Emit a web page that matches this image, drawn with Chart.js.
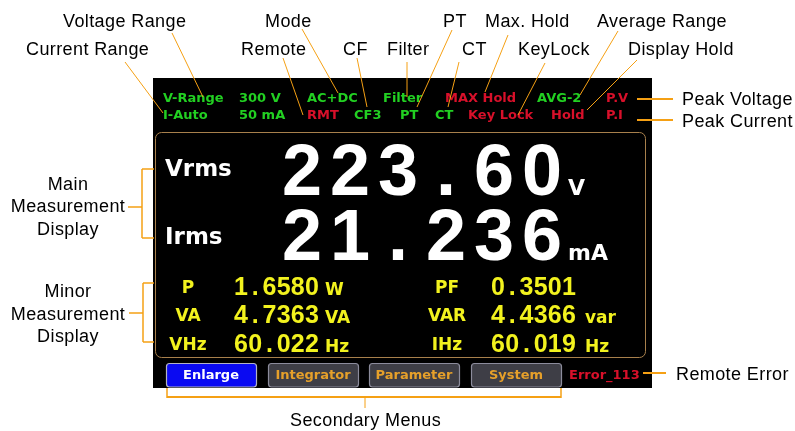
<!DOCTYPE html>
<html>
<head>
<meta charset="utf-8">
<script src="https://cdn.jsdelivr.net/npm/chart.js@4.4.1/dist/chart.umd.min.js"></script>
<style>
  html, body { margin: 0; padding: 0; background: #fff; }
  #panel { display: block; }
</style>
</head>
<body>
<canvas id="panel" width="795" height="431"></canvas>
<script>
// contenido de la pantalla
const statusTop = ['V-Range', '300 V', 'AC+DC', 'Filter', 'MAX Hold', 'AVG-2', 'P.V'];
const statusBottom = ['I-Auto', '50 mA', 'RMT', 'CF3', 'PT', 'CT', 'Key Lock', 'Hold', 'P.I'];
const mainLabels = ['Vrms', 'Irms'];
const mainValues = ['223.60', '21.236'];
const mainUnits = ['V', 'mA'];
const minorLabels = ['P', 'VA', 'VHz', 'PF', 'VAR', 'IHz'];
const minorValues = ['1.6580', '4.7363', '60.022', '0.3501', '4.4366', '60.019'];
const minorUnits = ['W', 'VA', 'Hz', '', 'var', 'Hz'];
const menus = ['Enlarge', 'Integrator', 'Parameter', 'System'];
const errorText = 'Error_113';

// textos de las llamadas
const callouts = ['Voltage Range', 'Current Range', 'Mode', 'Remote', 'CF', 'Filter', 'PT', 'Max. Hold',
  'CT', 'KeyLock', 'Average Range', 'Display Hold', 'Peak Voltage', 'Peak Current', 'Remote Error'];
const sideLabels = [['Main', 'Measurement', 'Display'], ['Minor', 'Measurement', 'Display']];
const bottomLabel = 'Secondary Menus';

// posiciones (solo maquetación)
const topX = [163, 239, 307, 383, 445, 537, 606];
const topCol = ['g', 'g', 'g', 'g', 'r', 'g', 'r'];
const botX = [163, 239, 307, 354, 400, 435, 468, 551, 606];
const botCol = ['g', 'g', 'r', 'g', 'g', 'g', 'r', 'r', 'r'];
const calloutPos = [
  [63, 22, 172, 33, 203, 97], [26, 50, 125, 62, 163, 113], [265, 22, 302, 29, 338, 93],
  [241, 50, 283, 58, 303, 115], [343, 50, 357, 58, 367, 107], [387, 50, 407, 62, 407, 97],
  [443, 22, 452, 30, 417, 107], [485, 22, 508, 35, 485, 92], [462, 50, 459, 62, 448, 107],
  [518, 50, 545, 63, 518, 115], [597, 22, 618, 31, 580, 95], [628, 50, 637, 60, 587, 110],
  [682, 100, 637, 99, 673, 99], [682, 122, 637, 120, 673, 120], [676, 375, 643, 373, 666, 373]
];
const menuX = [166, 268, 369, 471];

const colores = { g: '#22d022', r: '#d8102a', y: '#f2f21e', o: '#f5a014', menu: '#e6a02a' };

const pantalla = {
  id: 'pantalla',
  afterDraw(chart) {
    const c = chart.ctx;
    const X = v => chart.scales.x.getPixelForValue(v);
    const Y = v => chart.scales.y.getPixelForValue(v);
    const txt = (s, x, y, font, color, align = 'left', base = 'middle') => {
      c.font = font; c.fillStyle = color; c.textAlign = align; c.textBaseline = base;
      c.fillText(s, X(x), Y(y));
    };
    const line = (x1, y1, x2, y2, w = 1) => {
      c.strokeStyle = colores.o; c.lineWidth = w;
      c.beginPath(); c.moveTo(X(x1), Y(y1)); c.lineTo(X(x2), Y(y2)); c.stroke();
    };
    c.save();

    // fondo negro
    c.fillStyle = '#000';
    c.fillRect(X(153), Y(78), X(652) - X(153), Y(388) - Y(78));

    // marco de medidas
    c.strokeStyle = '#a8804c'; c.lineWidth = 1;
    c.beginPath(); c.roundRect(X(155.5), Y(132.5), X(645.5) - X(155.5), Y(357.5) - Y(132.5), 6); c.stroke();

    // barra de estado
    const fEstado = 'bold 13px "DejaVu Sans"';
    statusTop.forEach((s, i) => txt(s, topX[i], 99, fEstado, colores[topCol[i]]));
    statusBottom.forEach((s, i) => txt(s, botX[i], 116, fEstado, colores[botCol[i]]));

    // medidas principales
    const baseMain = [195, 260];
    mainLabels.forEach((s, i) => {
      txt(s, 165, i === 0 ? 170 : 238, 'bold 23px "DejaVu Sans"', '#fff');
      [...mainValues[i]].forEach((ch, k) =>
        txt(ch, 302 + k * 48, baseMain[i], 'bold 72px "Liberation Sans"', '#fff', 'center', 'alphabetic'));
      txt(mainUnits[i], 568, baseMain[i], 'bold 22px "DejaVu Sans"', '#fff', 'left', 'alphabetic');
    });

    // medidas secundarias
    const baseMinor = [295, 323, 352];
    minorLabels.forEach((s, i) => {
      const col = i < 3 ? 0 : 1, fila = i % 3;
      const b = baseMinor[fila];
      txt(s, col ? 447 : 188, b - 2, 'bold 17px "DejaVu Sans"', colores.y, 'center', 'alphabetic');
      [...minorValues[i]].forEach((ch, k) =>
        txt(ch, (col ? 498 : 241) + k * 14.2, b, 'bold 25px "Liberation Sans"', colores.y, 'center', 'alphabetic'));
      if (minorUnits[i]) txt(minorUnits[i], col ? 585 : 325, b, 'bold 17px "DejaVu Sans"', colores.y, 'left', 'alphabetic');
    });

    // menús
    menus.forEach((s, i) => {
      const x0 = menuX[i];
      c.fillStyle = i === 0 ? '#0a0af2' : '#3e3e46';
      c.strokeStyle = i === 0 ? '#b4b4c4' : '#8c8c9c';
      c.lineWidth = 1.2;
      c.beginPath(); c.roundRect(X(x0 + 0.5), Y(363.5), X(x0 + 90) - X(x0), Y(387) - Y(363.5), 3);
      c.fill(); c.stroke();
      txt(s, x0 + 45, 376, 'bold 13px "DejaVu Sans"', i === 0 ? '#fff' : colores.menu, 'center');
    });
    txt(errorText, 569, 376, 'bold 13px "DejaVu Sans"', colores.r);

    // llamadas
    c.letterSpacing = '0.4px';
    const fLlamada = '18px "Liberation Sans"';
    callouts.forEach((s, i) => {
      const p = calloutPos[i];
      txt(s, p[0], p[1], fLlamada, '#000');
      line(p[2], p[3], p[4], p[5], i >= 12 ? 2 : 1);
    });

    // corchetes laterales
    const br = [[142, 169, 238, 207, [185, 207, 230]], [143, 283, 342, 313, [292, 315, 337]]];
    br.forEach((b, i) => {
      line(b[0], b[1], b[0], b[2], 1.5);
      line(b[0], b[1], 154, b[1], 1.5);
      line(b[0], b[2], 154, b[2], 1.5);
      line(b[0] - 14, b[3], b[0], b[3], 1.5);
      sideLabels[i].forEach((s, k) => txt(s, 68, b[4][k], fLlamada, '#000', 'center'));
    });

    // corchete inferior
    line(167, 397, 561, 397, 2);
    line(167, 388, 167, 398, 1.5);
    line(561, 388, 561, 398, 1.5);
    line(365, 397, 365, 408, 1);
    txt(bottomLabel, 290, 421, fLlamada, '#000');

    c.restore();
  }
};

new Chart(document.getElementById('panel'), {
  type: 'scatter',
  data: { datasets: [] },
  options: {
    responsive: false,
    animation: false,
    events: [],
    layout: { padding: 0 },
    plugins: { legend: { display: false }, tooltip: { enabled: false } },
    scales: {
      x: { type: 'linear', min: 0, max: 795, display: false },
      y: { type: 'linear', min: 0, max: 431, reverse: true, display: false }
    }
  },
  plugins: [pantalla]
});
</script>
</body>
</html>
